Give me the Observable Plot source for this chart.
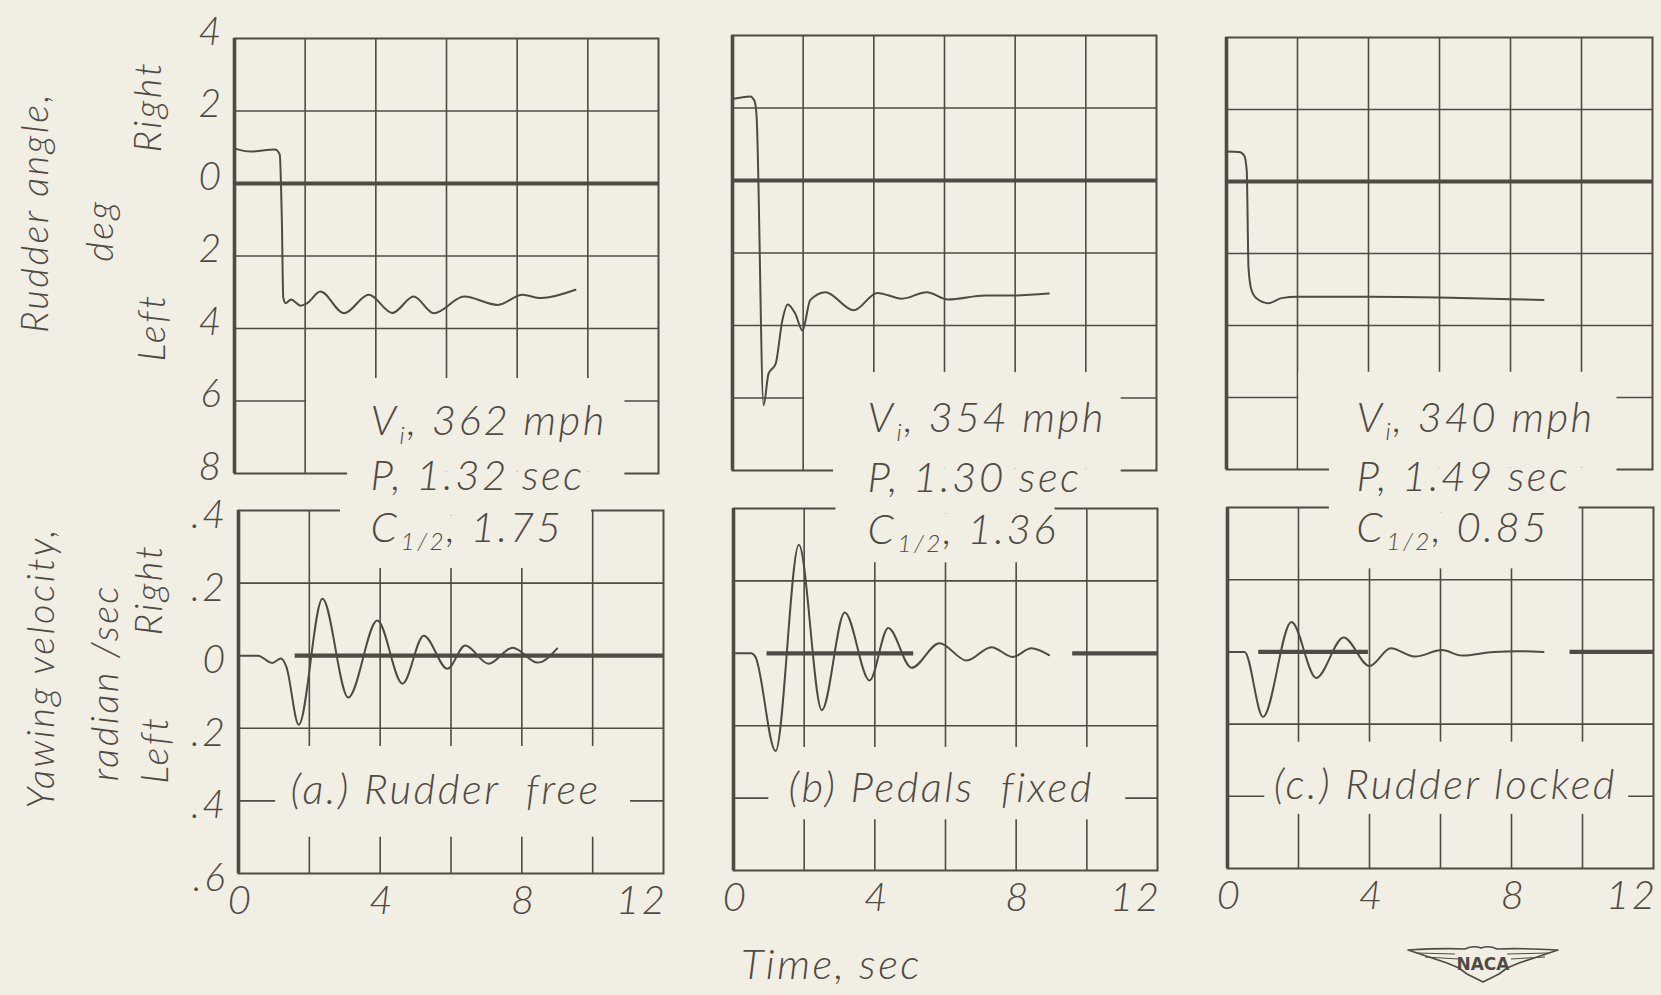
<!DOCTYPE html>
<html>
<head>
<meta charset="utf-8">
<script src="https://cdn.jsdelivr.net/npm/d3@7"></script>
<script src="https://cdn.jsdelivr.net/npm/@observablehq/plot@0.6"></script>
<style>
  html, body { margin: 0; padding: 0; background: #f1eee3; overflow: hidden; }
  #chart { position: relative; width: 1661px; height: 995px; background: #f1eee3; }
  #chart svg text { letter-spacing: 2.5px; }
  #chart svg.logo text { letter-spacing: 0; }
</style>
</head>
<body>
<div id="chart"></div>
<script>
// ---------------- data ----------------
const xTickValues = [0, 4, 8, 12];
const xTickLabels = ["0", "4", "8", "12"];
const xGridValues = [2, 4, 6, 8, 10];

const rudderGridValues = [2, -2, -4, -6];
const rudderTickValues = [4, 2, 0, -2, -4, -6, -8];
const rudderTickLabels = ["4", "2", "0", "2", "4", "6", "8"];

const yawGridValues = [0.2, -0.2, -0.4];
const yawTickValues = [0.4, 0.2, 0, -0.2, -0.4, -0.6];
const yawTickLabels = [".4", ".2", "0", ".2", ".4", ".6"];

// (a) Rudder free
const freeRudderTime  = [0, 0.45, 1.15, 1.28, 1.34, 1.38, 1.45, 1.6, 1.87, 2.06, 2.43, 3.1, 3.8, 4.47, 5.07, 5.64, 6.5, 7.45, 8.15, 8.67, 9.65];
const freeRudderAngle = [0.97, 0.88, 0.94, 0.8, -1.0, -3.15, -3.3, -3.2, -3.37, -3.3, -2.98, -3.58, -3.07, -3.57, -3.12, -3.58, -3.12, -3.35, -3.07, -3.16, -2.93];
const freeYawTime = [0, 0.55, 0.95, 1.2, 1.35, 1.7, 2.37, 3.1, 3.92, 4.63, 5.23, 5.9, 6.4, 7.06, 7.74, 8.45, 9.0];
const freeYawRate = [0, 0, -0.02, -0.008, -0.03, -0.19, 0.157, -0.115, 0.097, -0.077, 0.055, -0.036, 0.028, -0.022, 0.022, -0.019, 0.02];

// (b) Pedals fixed
const pedalsRudderTime  = [0, 0.5, 0.62, 0.68, 0.88, 1.02, 1.22, 1.41, 1.56, 1.78, 1.98, 2.2, 2.63, 3.43, 4.1, 4.8, 5.5, 6.1, 7.15, 8.0, 8.95];
const pedalsRudderAngle = [2.25, 2.32, 2.2, 1.8, -6.2, -5.33, -5.06, -3.86, -3.42, -3.68, -4.14, -3.3, -3.08, -3.58, -3.1, -3.26, -3.08, -3.28, -3.17, -3.17, -3.12];
const pedalsYawTime = [0, 0.5, 0.62, 1.19, 1.85, 2.5, 3.15, 3.85, 4.38, 5.04, 5.83, 6.6, 7.3, 7.9, 8.43, 8.93];
const pedalsYawRate = [0, 0, -0.01, -0.27, 0.3, -0.157, 0.113, -0.075, 0.07, -0.04, 0.028, -0.02, 0.017, -0.01, 0.014, -0.005];

// (c) Rudder locked
const lockedRudderTime  = [0, 0.35, 0.5, 0.57, 0.62, 0.7, 0.85, 1.18, 1.55, 2.0, 4.0, 6.0, 8.0, 8.93];
const lockedRudderAngle = [0.83, 0.82, 0.72, 0.3, -2.4, -3.0, -3.25, -3.38, -3.24, -3.2, -3.2, -3.22, -3.27, -3.29];
const lockedYawTime = [0, 0.48, 1.0, 1.8, 2.5, 3.27, 4.0, 4.6, 5.27, 6.05, 6.6, 7.5, 8.2, 8.9];
const lockedYawRate = [0, 0, -0.18, 0.083, -0.072, 0.04, -0.039, 0.01, -0.013, 0.005, -0.01, 0.0, 0.002, 0.0];

// annotation texts
const freeNotes   = ["V_i, 362 mph", "P, 1.32 sec", "C_{1/2}, 1.75", "(a.) Rudder  free"];
const pedalsNotes = ["V_i, 354 mph", "P, 1.30 sec", "C_{1/2}, 1.36", "(b) Pedals  fixed"];
const lockedNotes = ["V_i, 340 mph", "P, 1.49 sec", "C_{1/2}, 0.85", "(c.) Rudder locked"];

const rudderTitle = ["Rudder angle,", "deg", "Right", "Left"];
const yawTitle = ["Yawing velocity,", "radian /sec", "Right", "Left"];
const timeTitle = "Time, sec";

// ---------------- styling / layout ----------------
const ink = "#4f4a44";
const paper = "#f1eee3";
const font = "Lato, 'Open Sans', 'DejaVu Sans', sans-serif";
const FS = 42;      // annotation lettering
const TICK = 39;    // y tick lettering
const XTICK = 40;   // x tick lettering
const letter = {fontStyle: "italic", fontWeight: 300, fill: ink, fontFamily: font};

const zip = (t, v) => t.map((d, i) => ({t: d, v: v[i]}));

function panel(cfg) {
  const {frame, margin, kind} = cfg;
  const isTop = kind === "rudder";
  const marks = [];
  marks.push(Plot.ruleX(xGridValues, {stroke: ink, strokeWidth: 1.6}));
  marks.push(Plot.ruleY(isTop ? rudderGridValues : yawGridValues, {stroke: ink, strokeWidth: 1.6}));
  marks.push(Plot.frame({stroke: ink, strokeWidth: 2}));
  marks.push(Plot.ruleX([0], {stroke: ink, strokeWidth: 3.6}));
  marks.push(Plot.rect(cfg.masks, {x1: "x1", x2: "x2", y1: "y1", y2: "y2", fill: paper}));
  marks.push(Plot.ruleY(cfg.zero, {y: () => 0, x1: "x1", x2: "x2", stroke: ink, strokeWidth: 4.2}));
  marks.push(Plot.line(zip(cfg.time, cfg.value), {x: "t", y: "v", curve: "monotone-x", stroke: ink, strokeWidth: 2}));
  marks.push(Plot.text(cfg.notes, {
    x: d => d.x, y: d => d.y, text: d => d.text,
    textAnchor: "start", lineAnchor: "middle", fontSize: FS, ...letter
  }));
  if (cfg.yTicks) {
    marks.push(Plot.text(cfg.yTicks.values, {
      y: d => d, text: (d, i) => cfg.yTicks.labels[i], frameAnchor: "left", textAnchor: "end", lineAnchor: "middle",
      dx: -11, dy: isTop ? -6 : 5, fontSize: TICK, ...letter
    }));
  }
  if (cfg.titles) {
    marks.push(Plot.text(cfg.titles, {
      x: d => d.x, y: d => d.y, text: d => d.text, rotate: -90, lineAnchor: "middle",
      fontSize: 38, ...letter
    }));
  }
  if (cfg.xTicks) {
    marks.push(Plot.text(xTickValues.slice(0, 3), {
      x: d => d, text: (d, i) => xTickLabels[i], frameAnchor: "bottom", lineAnchor: "middle", dy: 28, dx: 2,
      fontSize: XTICK, ...letter
    }));
    marks.push(Plot.text(xTickValues.slice(3), {
      x: d => d, text: (d, i) => xTickLabels[3 + i], frameAnchor: "bottom", lineAnchor: "middle", textAnchor: "end", dy: 28, dx: 4,
      fontSize: XTICK, ...letter
    }));
  }
  if (cfg.extra) marks.push(...cfg.extra);

  const svg = Plot.plot({
    width: frame.width + margin.l + margin.r,
    height: frame.height + margin.t + margin.b,
    marginLeft: margin.l, marginRight: margin.r, marginTop: margin.t, marginBottom: margin.b,
    x: {domain: [0, 12], axis: null},
    y: {domain: isTop ? [-8, 4] : [-0.6, 0.4], axis: null},
    style: {background: "transparent", overflow: "visible", color: ink, fontFamily: font},
    marks
  });
  svg.style.position = "absolute";
  svg.style.left = (frame.left - margin.l) + "px";
  svg.style.top = (frame.top - margin.t) + "px";
  subscripts(svg);
  return svg;
}

function subscripts(svg) {
  const NS = "http://www.w3.org/2000/svg";
  svg.querySelectorAll("text").forEach(el => {
    const s = el.textContent;
    const m = s.match(/^(.*?)_\{([^}]*)\}(.*)$/) || s.match(/^(.*?)_(\w)(.*)$/);
    if (!m) return;
    el.textContent = "";
    el.appendChild(document.createTextNode(m[1]));
    const sub = document.createElementNS(NS, "tspan");
    sub.setAttribute("font-size", FS * 0.58);
    sub.setAttribute("dy", FS * 0.2);
    sub.setAttribute("dx", 1);
    sub.textContent = m[2];
    el.appendChild(sub);
    const rest = document.createElementNS(NS, "tspan");
    rest.setAttribute("dy", -FS * 0.2);
    rest.textContent = m[3];
    el.appendChild(rest);
  });
}

const notePos = (names, pos) => names.map((text, i) => ({text, x: pos[i][0], y: pos[i][1]}));

const chart = document.getElementById("chart");

// top row: rudder angle
chart.appendChild(panel({
  kind: "rudder", frame: {left: 234, top: 38, width: 424, height: 435}, margin: {l: 234, r: 10, t: 30, b: 32},
  time: freeRudderTime, value: freeRudderAngle,
  zero: [{x1: 0, x2: 12}],
  masks: [{x1: 2.04, x2: 11.05, y1: -5.38, y2: -7.96}, {x1: 3.2, x2: 11.05, y1: -7.96, y2: -8.35}],
  notes: notePos(freeNotes.slice(0, 2), [[3.85, -6.57], [3.85, -8.08]]),
  yTicks: {values: rudderTickValues, labels: rudderTickLabels},
  titles: notePos(rudderTitle, [[-5.63, -0.8], [-3.79, -1.3], [-2.43, 2.12], [-2.32, -3.97]])
}));
chart.appendChild(panel({
  kind: "rudder", frame: {left: 732, top: 35, width: 424, height: 435}, margin: {l: 20, r: 10, t: 30, b: 32},
  time: pedalsRudderTime, value: pedalsRudderAngle,
  zero: [{x1: 0, x2: 12}],
  masks: [{x1: 2.04, x2: 11.0, y1: -5.3, y2: -7.96}, {x1: 2.86, x2: 11.0, y1: -7.96, y2: -8.35}],
  notes: notePos(pedalsNotes.slice(0, 2), [[3.82, -6.57], [3.82, -8.22]])
}));
chart.appendChild(panel({
  kind: "rudder", frame: {left: 1226, top: 37, width: 426, height: 432}, margin: {l: 20, r: 8, t: 30, b: 32},
  time: lockedRudderTime, value: lockedRudderAngle,
  zero: [{x1: 0, x2: 12}],
  masks: [{x1: 2.04, x2: 11.0, y1: -5.3, y2: -7.96}, {x1: 2.9, x2: 11.0, y1: -7.96, y2: -8.35}],
  notes: notePos(lockedNotes.slice(0, 2), [[3.66, -6.58], [3.66, -8.22]])
}));

// bottom row: yawing velocity
chart.appendChild(panel({
  kind: "yaw", frame: {left: 238, top: 510, width: 425, height: 363}, margin: {l: 238, r: 10, t: 20, b: 60},
  time: freeYawTime, value: freeYawRate,
  zero: [{x1: 1.6, x2: 12}],
  masks: [{x1: 2.05, x2: 9.95, y1: 0.385, y2: 0.24}, {x1: 2.88, x2: 9.97, y1: 0.43, y2: 0.385}, {x1: 1.05, x2: 11.07, y1: -0.25, y2: -0.5}],
  notes: notePos(freeNotes.slice(2), [[3.73, 0.35], [1.47, -0.372]]),
  yTicks: {values: yawTickValues, labels: yawTickLabels},
  titles: notePos(yawTitle, [[-5.54, -0.033], [-3.76, -0.074], [-2.49, 0.182], [-2.34, -0.259]]),
  xTicks: true
}));
chart.appendChild(panel({
  kind: "yaw", frame: {left: 733, top: 508, width: 424, height: 362}, margin: {l: 20, r: 10, t: 20, b: 125},
  time: pedalsYawTime, value: pedalsYawRate,
  zero: [{x1: 0.95, x2: 5.1}, {x1: 9.6, x2: 12}],
  masks: [{x1: 2.05, x2: 9.95, y1: 0.385, y2: 0.25}, {x1: 2.9, x2: 9.1, y1: 0.43, y2: 0.385}, {x1: 1.0, x2: 11.1, y1: -0.26, y2: -0.46}],
  notes: notePos(pedalsNotes.slice(2), [[3.79, 0.34], [1.56, -0.373]]),
  xTicks: true,
  extra: [Plot.text([timeTitle], {x: () => 2.77, y: () => -0.862, text: d => d, lineAnchor: "middle",
    fontSize: FS, ...letter})]
}));
chart.appendChild(panel({
  kind: "yaw", frame: {left: 1227, top: 507, width: 426, height: 361}, margin: {l: 20, r: 8, t: 20, b: 60},
  time: lockedYawTime, value: lockedYawRate,
  zero: [{x1: 0.88, x2: 3.97}, {x1: 9.65, x2: 12}],
  masks: [{x1: 2.05, x2: 9.95, y1: 0.385, y2: 0.23}, {x1: 2.87, x2: 9.9, y1: 0.43, y2: 0.385}, {x1: 1.05, x2: 11.3, y1: -0.25, y2: -0.45}],
  notes: notePos(lockedNotes.slice(2), [[3.63, 0.342], [1.3, -0.369]]),
  xTicks: true
}));

// NACA wing emblem (decoration)
const logo = document.createElementNS("http://www.w3.org/2000/svg", "svg");
logo.setAttribute("width", 160); logo.setAttribute("height", 44);
logo.setAttribute("class", "logo");
logo.style.position = "absolute"; logo.style.left = "1403px"; logo.style.top = "942px";
logo.innerHTML = `
  <path d="M5 8 Q40 6 62 7 Q70 3 78 6 Q86 3 94 7 Q118 6 155 8 L140 13 L128 17 L116 21 L104 26 L96 32 L88 36 L80 40 L72 36 L64 32 L56 26 L44 21 L32 17 L20 13 Z"
    fill="none" stroke="${ink}" stroke-width="1.6" stroke-linejoin="round"/>
  <path d="M14 11 L52 12 M22 15 L56 17 M108 17 L142 15 M104 12 L146 11" stroke="${ink}" stroke-width="1" fill="none"/>
  <text x="80" y="28" text-anchor="middle" font-family="'DejaVu Sans', sans-serif" font-weight="bold" font-size="17" fill="${ink}">NACA</text>`;
chart.appendChild(logo);
</script>
</body>
</html>
